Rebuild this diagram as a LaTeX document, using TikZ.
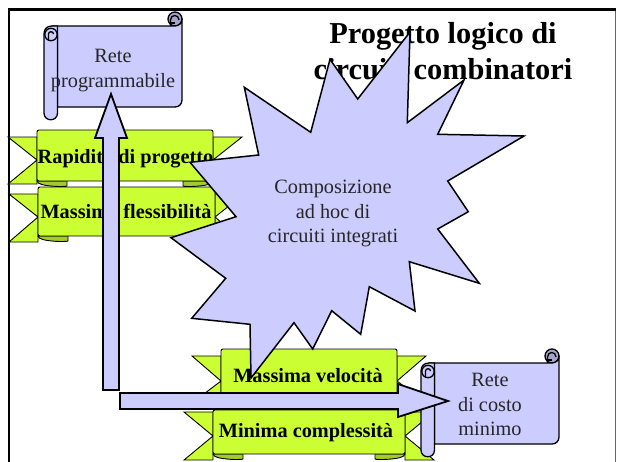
\documentclass[tikz,border=0pt]{standalone}
\usepackage{fontspec}
\setmainfont{Liberation Serif}
\definecolor{lav}{HTML}{CCCCFF}
\definecolor{lavd}{HTML}{A3A3CC}
\definecolor{lime}{HTML}{CCFF33}
\definecolor{limed}{HTML}{A3CC29}
\tikzset{
  shp/.style={draw=black,line width=1.3pt,line join=round},
  rib/.style={draw=black,line width=0.9pt,fill=lime,line join=miter},
  ribfold/.style={draw=black,line width=0.9pt,fill=limed},
  blockarrow/.style={draw=black,line width=1.8pt,fill=lav,line join=miter},
  ribtext/.style={font=\fontsize{20.3}{24}\selectfont\bfseries,anchor=base,inner sep=0pt},
  bodytext/.style={font=\fontsize{20.3}{24.6}\selectfont,align=center,inner sep=0pt,text=black!85},
  titletext/.style={font=\fontsize{30.4}{36}\selectfont\bfseries,align=center,inner sep=0pt},
  pics/scrollbox/.style={code={
    % right curl
    \filldraw[fill=lavd,shp] (-7,-7) circle (7);
    % body
    \filldraw[fill=lav,shp] (-130,0) -- (-7,0) .. controls (-3,0) and (0,-3) .. (0,-7) -- (0,74)
       .. controls (0,78) and (-3,81) .. (-7,81) -- (-124.5,81) -- (-124.5,8) -- cycle;
    \draw[shp] (-11.5,0) -- (-11.5,-6) .. controls (-11.5,-12) and (-3,-12) .. (-3,-6);
    \draw[shp] (-11.5,-3) -- (-7,-3);
    % left roll
    \filldraw[fill=lav,shp] (-138,8) .. controls (-138,3) and (-135,0) .. (-130,0) -- (-124.5,0) -- (-124.5,87)
       .. controls (-124.5,96) and (-138,96) .. (-138,87) -- cycle;
    \draw[shp] (-131,8.5) circle (6.2);
    \draw[shp] (-133.5,14) -- (-133.5,8) .. controls (-133.5,5) and (-128.5,5) .. (-128.5,8);
  }},
}
% #1 x1, #2 x2, #3 ytop, #4 ybottom, #5 tail top, #6 tail bottom, #7 notch y
\newcommand{\ribbonshape}[7]{%
  \filldraw[rib] (#1,#5) -- (#1-29,#5) -- (#1,#7) -- (#1-29,#6) -- (#1,#6) -- cycle;
  \filldraw[rib] (#2,#5) -- (#2+29,#5) -- (#2,#7) -- (#2+29,#6) -- (#2,#6) -- cycle;
  \filldraw[ribfold] (#1,#4) .. controls (#1,#4+6) and (#1+30,#4+6) .. (#1+30,#4+5) -- (#1+30,#4) -- cycle;
  \filldraw[ribfold] (#2,#4) .. controls (#2,#4+6) and (#2-30,#4+6) .. (#2-30,#4+5) -- (#2-30,#4) -- cycle;
  \filldraw[rib,rounded corners=2pt] (#1,#4) -- (#1,#3) -- (#2,#3) -- (#2,#4) -- cycle;
}
\begin{document}
\begin{tikzpicture}[x=1pt,y=-1pt]
\useasboundingbox (0,0) rectangle (618,461);
\fill[white] (0,0) rectangle (618,461);
% slide frame
\draw[line width=0.5pt,black!60] (615.5,9) -- (615.5,470);
\draw[black,line width=2.4pt] (9,470) -- (9,9.5) -- (615.5,9.5);
% title
\node[titletext] (title) at (443,51.5) {Progetto logico di\\circuiti combinatori};
% ribbons
\ribbonshape{37}{213}{130}{181}{137}{184}{160}
\node[ribtext] (rib1) at (125.5,163) {Rapidità di progetto};
\ribbonshape{38}{215}{187}{236}{194}{242}{217}
\node[ribtext] (rib2) at (126,218) {Massima flessibilità};
\ribbonshape{221}{397}{349}{399}{356}{403}{381}
\node[ribtext] (rib3) at (308,382) {Massima velocità};
\ribbonshape{213}{405}{410}{454}{412}{460}{436}
\node[ribtext] (rib4) at (306,437) {Minima complessità};
% scrolls
\pic at (182,26) {scrollbox};
\pic at (559,363) {scrollbox};
\node[bodytext] (prog) at (113,70.5) {Rete\\programmabile};
\node[bodytext] (costo) at (490,404.5) {Rete\\di costo\\minimo};
% burst
\filldraw[fill=lav,shp,line width=1.5pt,line join=miter] (410,32) -- (407.3,122.7) -- (464,80) -- (437.7,134.3) -- (524,136)
  -- (447.7,181) -- (468.3,211.7) -- (437.7,229) -- (479.3,283.3) -- (409.3,261.7) -- (415,311) -- (369.3,286.7)
  -- (360.7,334.3) -- (331.7,310.7) -- (312.7,349) -- (294,322.7) -- (251,378) -- (250,324.3) -- (191.7,318.3)
  -- (225.7,278.3) -- (171,237.7) -- (236,216.7) -- (190,162.3) -- (258.7,155) -- (244.3,87.3) -- (310.7,132.3)
  -- (330,59.3) -- (357.7,99) -- cycle;
\node[bodytext] (burst) at (333,213.5) {Composizione\\ad hoc di\\circuiti integrati};
% block arrows
\filldraw[blockarrow] (119,390) -- (119,138) -- (127,138) -- (111,94) -- (95,138) -- (103,138) -- (103,390) -- cycle;
\filldraw[blockarrow] (120,393) -- (398,393) -- (398,384) -- (448,401) -- (398,417) -- (398,409) -- (120,409) -- cycle;
\end{tikzpicture}
\end{document}
